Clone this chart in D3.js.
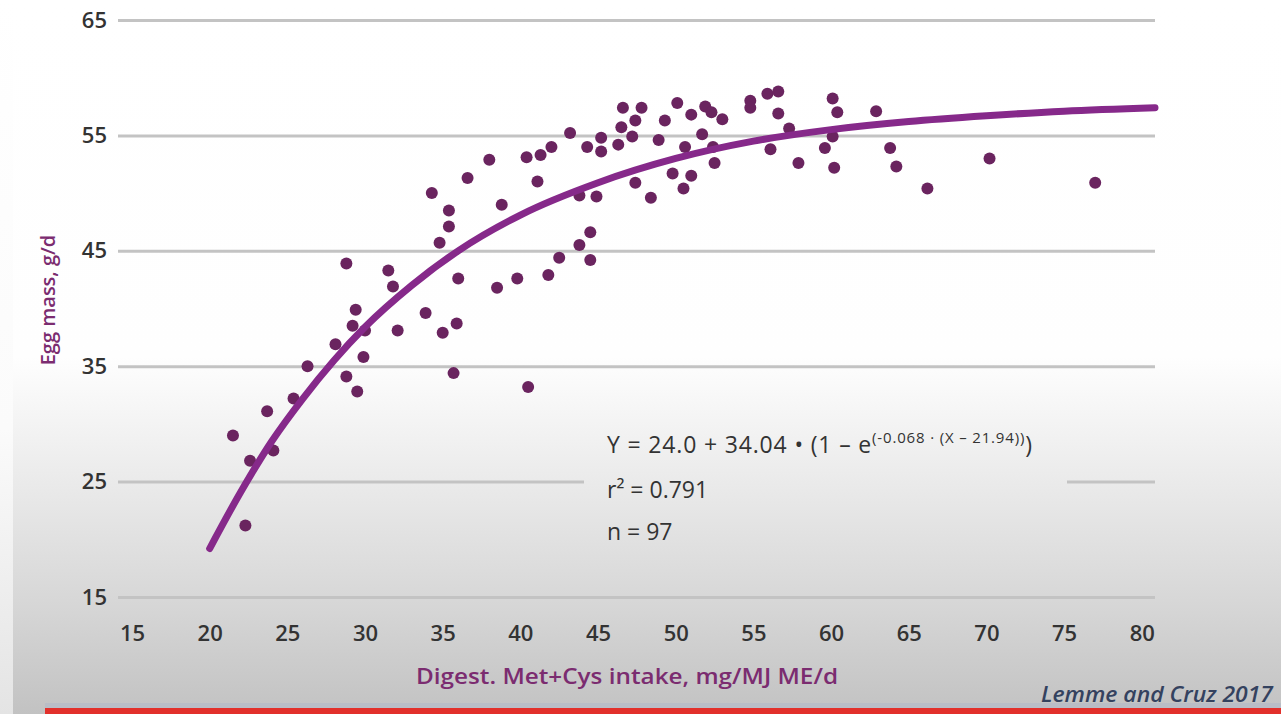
<!DOCTYPE html>
<html>
<head>
<meta charset="utf-8">
<script src="https://cdn.jsdelivr.net/npm/d3@7"></script>
<style>
  html, body { margin: 0; padding: 0; background: #fff; }
  #root { width: 1281px; height: 714px; }
  text { font-family: "Open Sans", "Noto Sans", sans-serif; }
</style>
</head>
<body>
<div id="root"></div>
<script>
// values
const xTicks = [15, 20, 25, 30, 35, 40, 45, 50, 55, 60, 65, 70, 75, 80]
const yTicks = [15, 25, 35, 45, 55, 65]

// digestible Met+Cys intake (mg/MJ ME/d)
const intake = [
  22.3, 21.5, 22.6, 24.1, 23.7, 25.4, 26.3, 28.1, 28.8, 29.5,
  29.9, 29.2, 30.0, 29.4, 32.1, 33.9, 35.0, 35.9, 35.7, 40.5,
  28.8, 31.5, 31.8, 36.0, 38.5, 39.8, 41.8, 42.5, 34.8, 35.4,
  35.4, 34.3, 36.6, 38.8, 38.0, 40.4, 41.3, 42.0, 41.1, 43.2,
  44.3, 43.8, 44.9, 44.5, 43.8, 44.5, 45.2, 45.2, 46.3, 46.5,
  46.6, 47.8, 47.4, 47.2, 49.3, 48.9, 50.1, 51.0, 51.9, 52.3,
  53.0, 51.7, 50.6, 52.5, 49.8, 51.0, 50.5, 47.4, 48.4, 52.4,
  54.8, 54.8, 55.9, 56.6, 56.6, 57.3, 56.1, 57.9, 60.1, 60.4,
  60.1, 59.6, 60.2, 62.9, 63.8, 64.2, 66.2, 70.2, 77.0
]
// egg mass (g/d)
const eggMass = [
  21.2, 29.0, 26.8, 27.7, 31.1, 32.2, 35.0, 36.9, 34.1, 32.8,
  35.8, 38.5, 38.1, 39.9, 38.1, 39.6, 37.9, 38.7, 34.4, 33.2,
  43.9, 43.3, 41.9, 42.6, 41.8, 42.6, 42.9, 44.4, 45.7, 47.1,
  48.5, 50.0, 51.3, 49.0, 52.9, 53.1, 53.3, 54.0, 51.0, 55.2,
  54.0, 49.8, 49.7, 46.6, 45.5, 44.2, 54.8, 53.6, 54.2, 55.7,
  57.4, 57.4, 56.3, 54.9, 56.3, 54.6, 57.8, 56.8, 57.5, 57.0,
  56.4, 55.1, 54.0, 52.6, 51.7, 51.5, 50.4, 50.9, 49.6, 54.0,
  58.0, 57.4, 58.6, 58.8, 56.9, 55.6, 53.8, 52.6, 58.2, 57.0,
  54.9, 53.9, 52.2, 57.1, 53.9, 52.3, 50.4, 53.0, 50.9
]

// fitted response curve
const fitX = [20, 22, 24, 26, 28, 30, 33, 36, 40, 45, 50, 55, 60, 65, 70, 75, 80.85]
const fitY = [19.2, 24.1, 28.5, 32.2, 35.5, 38.4, 42.0, 45.0, 48.1, 50.9, 53.0, 54.5, 55.5, 56.2, 56.7, 57.1, 57.4]

const equationLines = ['r² = 0.791', 'n = 97']

const W = 1281, H = 714
const svg = d3.select('#root').append('svg').attr('width', W).attr('height', H)

const defs = svg.append('defs')
const bg = defs.append('linearGradient').attr('id', 'bg')
  .attr('gradientUnits', 'userSpaceOnUse')
  .attr('x1', 0).attr('y1', 0).attr('x2', 0).attr('y2', H)
bg.append('stop').attr('offset', 0).attr('stop-color', '#ffffff')
bg.append('stop').attr('offset', 0.5).attr('stop-color', '#fefefe')
bg.append('stop').attr('offset', 0.66).attr('stop-color', '#ececec')
bg.append('stop').attr('offset', 0.85).attr('stop-color', '#d6d6d6')
bg.append('stop').attr('offset', 1).attr('stop-color', '#c2c2c2')

const side = defs.append('linearGradient').attr('id', 'side')
  .attr('gradientUnits', 'userSpaceOnUse')
  .attr('x1', 0).attr('y1', 0).attr('x2', 0).attr('y2', H)
side.append('stop').attr('offset', 0).attr('stop-color', '#ffffff')
side.append('stop').attr('offset', 0.6).attr('stop-color', '#fbfbfb')
side.append('stop').attr('offset', 1).attr('stop-color', '#e4e4e4')

svg.append('rect').attr('width', W).attr('height', H).attr('fill', 'url(#bg)')
svg.append('rect').attr('width', 13).attr('height', H).attr('fill', 'url(#side)')

// bottom strip
svg.append('rect').attr('x', 45).attr('y', 703).attr('width', W - 45).attr('height', 5).attr('fill', '#b9bdc6')
svg.append('rect').attr('x', 45).attr('y', 708).attr('width', W - 45).attr('height', 6).attr('fill', '#e2302b')

const x = d3.scaleLinear().domain([14.1, 80.85]).range([118, 1155])
const y = d3.scaleLinear().domain([15, 65]).range([597, 20])

// gridlines + y labels
const yAxis = svg.append('g')
  .attr('transform', `translate(${x.range()[0]},0)`)
  .call(d3.axisLeft(y).tickValues(yTicks).tickSize(-(x.range()[1] - x.range()[0])).tickPadding(11))
yAxis.select('.domain').remove()
yAxis.selectAll('.tick line').attr('stroke', '#c3c3c3').attr('stroke-width', 3)
yAxis.selectAll('.tick text')
  .attr('fill', '#333').attr('font-size', 22).attr('font-weight', 600)
  .style('font-family', '"Open Sans", sans-serif')

// x labels
const xAxis = svg.append('g')
  .attr('transform', `translate(0,${y(15)})`)
  .call(d3.axisBottom(x).tickValues(xTicks).tickSize(0).tickPadding(28))
xAxis.select('.domain').remove()
xAxis.selectAll('.tick text')
  .attr('fill', '#333').attr('font-size', 22).attr('font-weight', 600)
  .style('font-family', '"Open Sans", sans-serif')

// box behind the equation
svg.append('rect').attr('x', 584).attr('y', 418).attr('width', 483).attr('height', 130).attr('fill', 'url(#bg)')

// points
svg.append('g').selectAll('circle')
  .data(intake.map((d, i) => [d, eggMass[i]]))
  .join('circle')
  .attr('cx', d => x(d[0]))
  .attr('cy', d => y(d[1]))
  .attr('r', 6)
  .attr('fill', '#6a245f')

// fit line
svg.append('path')
  .datum(fitX.map((d, i) => [d, fitY[i]]))
  .attr('fill', 'none')
  .attr('stroke', '#86298a')
  .attr('stroke-width', 7)
  .attr('stroke-linecap', 'round')
  .attr('d', d3.line().x(d => x(d[0])).y(d => y(d[1])).curve(d3.curveMonotoneX))

// equation
const eq = svg.append('text').attr('x', 607).attr('y', 453)
  .attr('fill', '#333').attr('font-size', 23)
  .attr('textLength', 425).attr('lengthAdjust', 'spacing')
eq.append('tspan').text('Y = 24.0 + 34.04 • (1 – e')
eq.append('tspan').attr('dy', -10).attr('font-size', 15).text('(-0.068 · (X – 21.94))')
eq.append('tspan').attr('dy', 10).text(')')

svg.append('g').selectAll('text')
  .data(equationLines)
  .join('text')
  .attr('x', 607)
  .attr('y', (d, i) => 498 + i * 42)
  .attr('fill', '#333').attr('font-size', 23)
  .text(d => d)

// axis titles
svg.append('text')
  .attr('transform', 'translate(55,300) rotate(-90)')
  .attr('text-anchor', 'middle')
  .attr('fill', '#7b2c70').attr('font-size', 20).attr('font-weight', 600)
  .text('Egg mass, g/d')

svg.append('text')
  .attr('x', 627).attr('y', 684)
  .attr('text-anchor', 'middle')
  .attr('fill', '#7b2c70').attr('font-size', 22).attr('font-weight', 600)
  .attr('textLength', 422).attr('lengthAdjust', 'spacingAndGlyphs')
  .text('Digest. Met+Cys intake, mg/MJ ME/d')

svg.append('text')
  .attr('x', 1273).attr('y', 702)
  .attr('text-anchor', 'end')
  .attr('fill', '#34425f').attr('font-size', 21).attr('font-style', 'italic').attr('font-weight', 600)
  .attr('textLength', 232).attr('lengthAdjust', 'spacingAndGlyphs')
  .text('Lemme and Cruz 2017')
</script>
</body>
</html>
